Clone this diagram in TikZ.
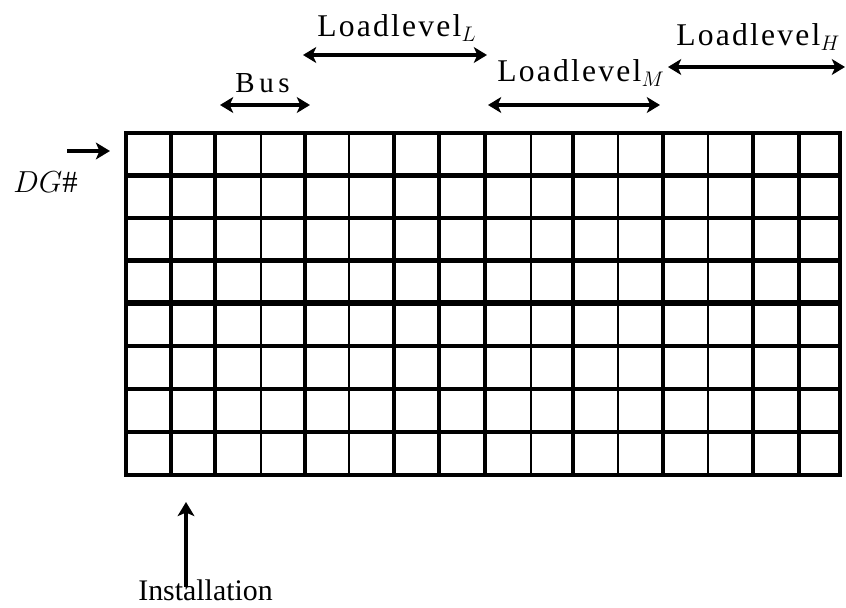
\documentclass[tikz,border=0pt]{standalone}
\usepackage{fontspec}
\setmainfont{Liberation Serif}
\newfontfamily\lvlfont[LetterSpace=7]{Liberation Serif}
\newfontfamily\busfont[LetterSpace=16]{Liberation Serif}
\usetikzlibrary{arrows.meta}

\tikzset{
  gridthick/.style={line width=2.3pt},
  gridthin/.style={line width=1.1pt},
  gridmid/.style={line width=3.4pt},
  twoway/.style={line width=2.2pt,{Stealth[length=7.5pt,width=9pt,inset=2pt]}-{Stealth[length=7.5pt,width=9pt,inset=2pt]}},
  oneway/.style={line width=2.2pt,-{Stealth[length=8pt,width=9.5pt,inset=2pt]}},
  lvltxt/.style={inner sep=0pt,anchor=base west,font=\fontsize{18}{20}\lvlfont},
  plaintxt/.style={inner sep=0pt,anchor=base west,font=\fontsize{17}{20}\selectfont}
}

\begin{document}
\begin{tikzpicture}[x=0.02cm,y=-0.02cm]
\useasboundingbox (0,0) rectangle (846,608);

\draw[gridthick] (126,133) rectangle (840,475); %frame

%vertical lines
\draw[gridthick] (171,133) -- (171,475);
\draw[gridthick] (215,133) -- (215,475);
\draw[gridthin]  (261,133) -- (261,475);
\draw[gridthick] (305,133) -- (305,475);
\draw[gridthin]  (349,133) -- (349,475);
\draw[gridthick] (394,133) -- (394,475);
\draw[gridthick] (439,133) -- (439,475);
\draw[gridthick] (485,133) -- (485,475);
\draw[gridthin]  (531,133) -- (531,475);
\draw[gridthick] (573,133) -- (573,475);
\draw[gridthin]  (618,133) -- (618,475);
\draw[gridthick] (663,133) -- (663,475);
\draw[gridthin]  (708,133) -- (708,475);
\draw[gridthick] (753,133) -- (753,475);
\draw[gridthick] (799,133) -- (799,475);

%horizontal lines
\draw[gridthick] (126,175.5) -- (840,175.5);
\draw[gridthick] (126,218)   -- (840,218);
\draw[gridthick] (126,260.5) -- (840,260.5);
\draw[gridmid]   (126,303)   -- (840,303);
\draw[gridthick] (126,346)   -- (840,346);
\draw[gridthick] (126,389)   -- (840,389);
\draw[gridthick] (126,432)   -- (840,432);

%labels
\node[lvltxt] (lvlL) at (317,37) {Loadlevel$_L$};
\node[lvltxt] (lvlM) at (497,82) {Loadlevel$_M$};
\node[lvltxt] (lvlH) at (676,46) {Loadlevel$_H$};
\node[lvltxt,font=\fontsize{16.5}{20}\busfont] (bus) at (235,93) {Bus};
\node[plaintxt,font=\fontsize{17.5}{20}\selectfont] (dg) at (13,193) {$DG\#$};
\node[plaintxt] (inst) at (138,600) {Installation};

%arrow ends
\coordinate (busA)  at (220,105); \coordinate (busB)  at (310,105);
\coordinate (lvlLa) at (303,55);  \coordinate (lvlLb) at (487,55);
\coordinate (lvlMa) at (488,105); \coordinate (lvlMb) at (660,105);
\coordinate (lvlHa) at (668,67);  \coordinate (lvlHb) at (845,67);
\coordinate (dgA)   at (67,151);  \coordinate (dgB)   at (110,151);
\coordinate (instA) at (186,587); \coordinate (instB) at (186,502);

\draw[twoway] (busA) -- (busB);
\draw[twoway] (lvlLa) -- (lvlLb);
\draw[twoway] (lvlMa) -- (lvlMb);
\draw[twoway] (lvlHa) -- (lvlHb);
\draw[oneway] (dgA) -- (dgB);
\draw[oneway] (instA) -- (instB);
\end{tikzpicture}
\end{document}
